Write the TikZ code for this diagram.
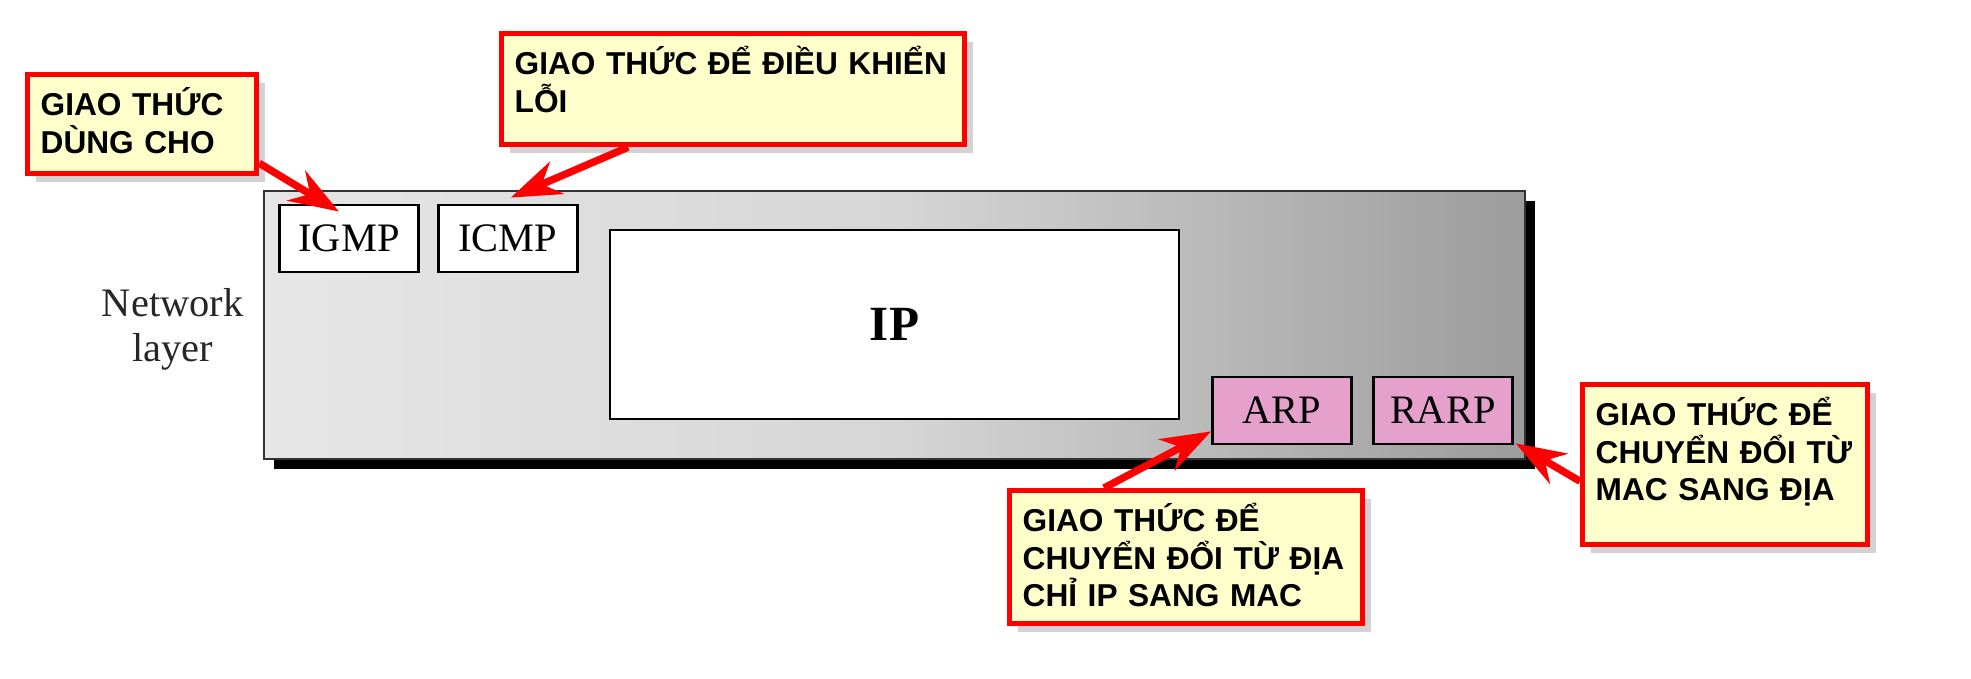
\documentclass[tikz,border=0pt]{standalone}
\usepackage{fontspec}
\setmainfont{Liberation Serif}
\newfontfamily\notefont{Liberation Sans}
\usetikzlibrary{positioning,arrows.meta,shadows}

\definecolor{layerlight}{RGB}{230,230,230}
\definecolor{layermid}{RGB}{214,214,214}
\definecolor{layerdark}{RGB}{156,156,156}
\definecolor{protopink}{RGB}{229,160,204}
\definecolor{notefill}{RGB}{255,255,204}
\definecolor{notered}{RGB}{255,0,0}

\tikzset{
  proto/.style={draw=black, line width=0.8pt, fill=white, minimum width=1.39cm,
    minimum height=0.67cm, inner sep=0pt, font=\fontsize{11.5}{12.5}\selectfont},
  addr/.style={proto, fill=protopink},
  notebox/.style={draw=notered, line width=1.5pt, fill=notefill, anchor=north west,
    inner sep=0pt, drop shadow={opacity=0.35, shadow xshift=0.8mm, shadow yshift=-0.8mm}},
  notetext/.style={anchor=base west, inner sep=0pt, text width=5cm, align=left,
    font=\notefont\bfseries\fontsize{9}{10.6}\selectfont},
  notearrow/.style={-{Stealth[length=5mm,width=3.5mm]}, draw=notered, line width=2.1pt}
}

\begin{document}
\begin{tikzpicture}
  \useasboundingbox (0,0) rectangle (19.71,6.79);

  % Network layer box
  \node[draw=black!80, line width=0.7pt, left color=layerlight, right color=layerdark,
    middle color=layermid, minimum width=12.61cm, minimum height=2.68cm, inner sep=0pt,
    drop shadow={fill=black, opacity=1, shadow xshift=1mm, shadow yshift=-1mm}]
    (netlayer) at (8.945,3.54) {};
  \node[left=0.07cm of netlayer, yshift=-0.04cm, align=center, text=black!85,
    font=\fontsize{11.5}{12.8}\selectfont] (netlabel) {Network\\layer};

  % Protocols
  \node[proto] (igmp) at (3.49,4.405) {IGMP};
  \node[proto, right=0.17cm of igmp] (icmp) {ICMP};
  \node[proto, minimum width=5.69cm, minimum height=1.89cm,
    font=\bfseries\fontsize{14}{16}\selectfont] (ip) at (8.945,3.545) {IP};
  \node[addr] (arp) at (12.82,2.685) {ARP};
  \node[addr, right=0.19cm of arp] (rarp) {RARP};

  % Notes
  \node[notebox, minimum width=2.29cm, minimum height=0.99cm] (igmpnote) at (0.25,6.07) {};
  \node[notetext] (igmpnotetxt) at ([shift={(0.15,-0.44)}]igmpnote.north west)
    {GIAO THỨC\\DÙNG CHO};
  \node[notebox, minimum width=4.63cm, minimum height=1.11cm] (icmpnote) at (4.99,6.48) {};
  \node[notetext] (icmpnotetxt) at ([shift={(0.15,-0.44)}]icmpnote.north west)
    {GIAO THỨC ĐỂ ĐIỀU KHIỂN\\LỖI};
  \node[notebox, minimum width=3.53cm, minimum height=1.33cm] (arpnote) at (10.07,1.91) {};
  \node[notetext] (arpnotetxt) at ([shift={(0.15,-0.44)}]arpnote.north west)
    {GIAO THỨC ĐỂ\\CHUYỂN ĐỔI TỪ ĐỊA\\CHỈ IP SANG MAC};
  \node[notebox, minimum width=2.85cm, minimum height=1.60cm] (rarpnote) at (15.80,2.97) {};
  \node[notetext] (rarpnotetxt) at ([shift={(0.15,-0.44)}]rarpnote.north west)
    {GIAO THỨC ĐỂ\\CHUYỂN ĐỔI TỪ\\MAC SANG ĐỊA};

  % Arrows to the protocols
  \draw[notearrow] ([yshift=0.13cm]igmpnote.south east) -- ([shift={(-0.10,-0.08)}]igmp.north);
  \draw[notearrow] ([xshift=1.29cm]icmpnote.south west) -- ([shift={(0.03,0.06)}]icmp.north);
  \draw[notearrow] ([xshift=0.97cm]arpnote.north west) -- ([yshift=0.14cm]arp.south west);
  \draw[notearrow] ([yshift=0.66cm]rarpnote.south west) -- ([shift={(0.02,0.02)}]rarp.south east);
\end{tikzpicture}
\end{document}
